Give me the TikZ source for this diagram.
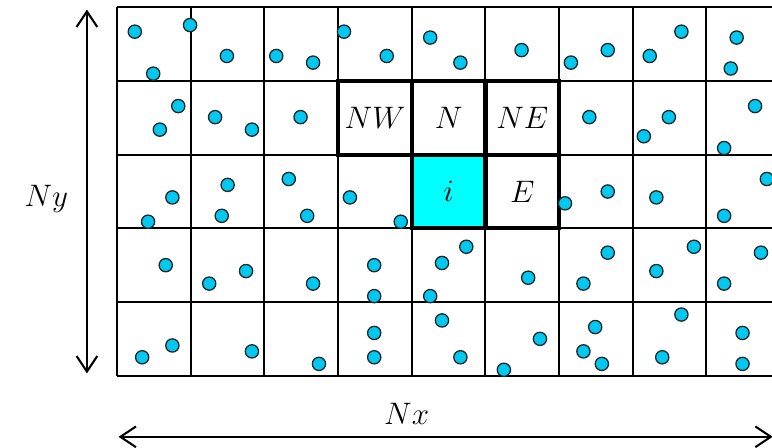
\documentclass[tikz,border=0pt]{standalone}
\usetikzlibrary{arrows.meta}
\definecolor{partblue}{RGB}{0,200,240}
\definecolor{cellcyan}{RGB}{0,255,255}

\begin{document}
\begin{tikzpicture}[
  cellbox/.style={draw,line width=1.6pt,minimum size=1cm,inner sep=0pt,font=\large},
  particle/.style={circle,draw=black!85,line width=0.5pt,fill=partblue,inner sep=0pt,minimum size=0.18cm},
  dimline/.style={{Straight Barb[length=6pt,width=8pt]}-{Straight Barb[length=6pt,width=8pt]},line width=0.8pt}]
  \useasboundingbox (-1.59,-0.97) rectangle (8.89,5.1);
  \clip (-1.59,-0.97) rectangle (8.89,5.1);
  % Grid
  \draw[line width=0.8pt] (0,0) grid (10,5);
  % Cell i and its neighbours
  \node[cellbox,fill=cellcyan] (ci) at (4.5,2.5) {$i$};
  \node[cellbox] (e)  at (5.5,2.5) {$E$};
  \node[cellbox] (nw) at (3.5,3.5) {$NW$};
  \node[cellbox] (n)  at (4.5,3.5) {$N$};
  \node[cellbox] (ne) at (5.5,3.5) {$NE$};
  % Particles
  \foreach \x/\y [count=\k] in {
      0.24/4.67, 0.99/4.76, 0.49/4.10, 1.49/4.34, 2.16/4.34, 2.66/4.25,
      3.08/4.67, 3.66/4.34, 4.25/4.59, 4.66/4.25, 5.49/4.42, 6.16/4.25,
      6.66/4.42, 7.23/4.34, 7.66/4.67, 8.41/4.59, 8.33/4.17,
      0.83/3.66, 0.58/3.34, 1.33/3.51, 1.83/3.34, 2.49/3.51, 6.41/3.51,
      7.49/3.51, 7.15/3.25, 8.66/3.66, 8.24/3.09,
      0.75/2.42, 0.42/2.09, 1.50/2.59, 1.42/2.17, 2.33/2.67, 2.58/2.17,
      3.16/2.42, 3.85/2.09, 6.08/2.34, 6.66/2.50, 7.32/2.42, 8.24/2.17,
      8.82/2.67,
      0.66/1.50, 1.75/1.42, 1.25/1.25, 2.66/1.25, 3.49/1.50, 3.49/1.08,
      4.25/1.08, 4.41/1.53, 4.74/1.75, 5.58/1.33, 6.66/1.67, 6.33/1.25,
      7.83/1.75, 7.32/1.42, 8.74/1.67, 8.24/1.25,
      0.34/0.25, 0.75/0.41, 1.83/0.33, 2.74/0.16, 3.49/0.58, 3.49/0.25,
      4.41/0.75, 4.66/0.25, 5.74/0.50, 5.25/0.08, 6.49/0.66, 6.33/0.33,
      6.58/0.16, 7.66/0.83, 7.40/0.25, 8.49/0.58, 8.49/0.16}
    \node[particle] (p\k) at (\x,\y) {};
  % Dimensions
  \coordinate (ytop) at (-0.41,4.97);
  \coordinate (ybot) at (-0.41,0.03);
  \coordinate (xleft) at (0.02,-0.83);
  \coordinate (xright) at (8.9,-0.83);
  \draw[dimline] (ybot) -- (ytop);
  \draw[dimline] (xleft) -- (xright);
  \node[anchor=base,font=\large] (ny) at (-0.96,2.29) {$Ny$};
  \node[anchor=base,font=\large] (nx) at (3.93,-0.66) {$Nx$};
\end{tikzpicture}
\end{document}
